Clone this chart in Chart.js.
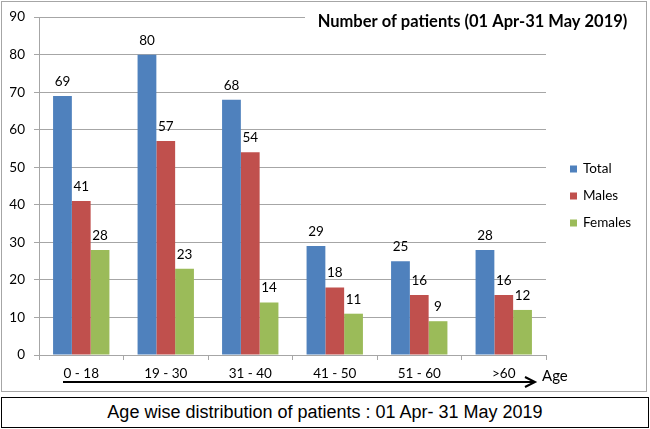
<!DOCTYPE html>
<html><head><meta charset="utf-8">
<script src="https://cdn.jsdelivr.net/npm/chart.js@4/dist/chart.umd.min.js"></script>
<style>
html,body{margin:0;padding:0;background:#fff;width:650px;height:429px;overflow:hidden}
#wrap{position:absolute;left:0;top:0;width:650px;height:393px}
#caption{position:absolute;left:1px;top:397px;width:648px;height:31px;box-sizing:border-box;border:1px solid #000;
 font-family:"Liberation Sans",Arial,sans-serif;font-size:18px;line-height:29px;text-align:center;color:#000}
</style></head><body>
<div id="wrap"><canvas id="c"></canvas></div>
<div id="caption">Age wise distribution of patients : 01 Apr- 31 May 2019</div>
<script>
const categories = ["0 - 18", "19 - 30", "31 - 40", "41 - 50", "51 - 60", ">60"];
const total = [69, 80, 68, 29, 25, 28];
const males = [41, 57, 54, 18, 16, 16];
const females = [28, 23, 14, 11, 9, 12];
const seriesNames = ["Total", "Males", "Females"];
const chartTitle = "Number of patients (01 Apr-31 May 2019)";
const axisName = "Age";

const colors = ["#4F81BD", "#C0504D", "#9BBB59"];
const gridGray = "#a6a6a6";
Chart.defaults.font.family = "Lato";
Chart.defaults.color = "#000";

const deco = {
  id: "deco",
  afterDraw(chart) {
    const ctx = chart.ctx;
    ctx.save();
    // data labels
    ctx.font = "13.5px Lato";
    ctx.fillStyle = "#000";
    ctx.textAlign = "center";
    ctx.textBaseline = "alphabetic";
    chart.data.datasets.forEach((ds, i) => {
      chart.getDatasetMeta(i).data.forEach((el, j) => {
        ctx.fillText(String(ds.data[j]), el.x, el.y - 10);
      });
    });
    // title box
    ctx.fillStyle = "#fff";
    ctx.fillRect(305, 4, 338, 34);
    ctx.fillStyle = "#000";
    ctx.font = "bold 16.5px Lato";
    ctx.textAlign = "center";
    ctx.textBaseline = "middle";
    ctx.fillText(chartTitle, 472.5, 22);
    // legend
    ctx.font = "13.5px Lato";
    ctx.textAlign = "left";
    const ly = [169, 196, 223];
    seriesNames.forEach((n, i) => {
      ctx.fillStyle = colors[i];
      ctx.fillRect(570, ly[i] - 3.5, 7, 7);
      ctx.fillStyle = "#000";
      ctx.fillText(n, 583, ly[i]);
    });
    // arrow
    ctx.strokeStyle = "#000";
    ctx.lineWidth = 2;
    ctx.beginPath();
    ctx.moveTo(63, 382); ctx.lineTo(535, 382);
    ctx.moveTo(525, 377); ctx.lineTo(535, 382); ctx.lineTo(525, 387);
    ctx.stroke();
    ctx.font = "15px Lato";
    ctx.fillText(axisName, 542, 376);
    // outer border
    ctx.strokeStyle = gridGray;
    ctx.lineWidth = 1;
    ctx.strokeRect(1.5, 1.5, 645, 390);
    ctx.restore();
  }
};

new Chart(document.getElementById("c"), {
  type: "bar",
  data: {
    labels: categories,
    datasets: [
      { label: seriesNames[0], data: total, backgroundColor: colors[0] },
      { label: seriesNames[1], data: males, backgroundColor: colors[1] },
      { label: seriesNames[2], data: females, backgroundColor: colors[2] }
    ]
  },
  options: {
    responsive: true,
    maintainAspectRatio: false,
    animation: false,
    events: [],
    layout: { padding: { left: 0, top: 17, right: 104, bottom: 0 } },
    datasets: { bar: { barPercentage: 1, categoryPercentage: 0.667, borderWidth: 0 } },
    plugins: { legend: { display: false }, title: { display: false }, tooltip: { enabled: false } },
    scales: {
      x: {
        grid: { offset: true, drawOnChartArea: false, drawTicks: true, tickLength: 5, color: gridGray },
        border: { color: gridGray },
        ticks: { font: { size: 13.5 }, padding: 6, color: "#000", maxRotation: 0 },
        afterFit(a) { a.height = 38; }
      },
      y: {
        min: 0, max: 90,
        grid: { color: gridGray, tickLength: 5 },
        border: { color: gridGray },
        ticks: { stepSize: 10, font: { size: 13.5 }, padding: 9, color: "#000" },
        afterFit(a) { a.width = 39; }
      }
    }
  },
  plugins: [deco]
});
</script>
</body></html>
